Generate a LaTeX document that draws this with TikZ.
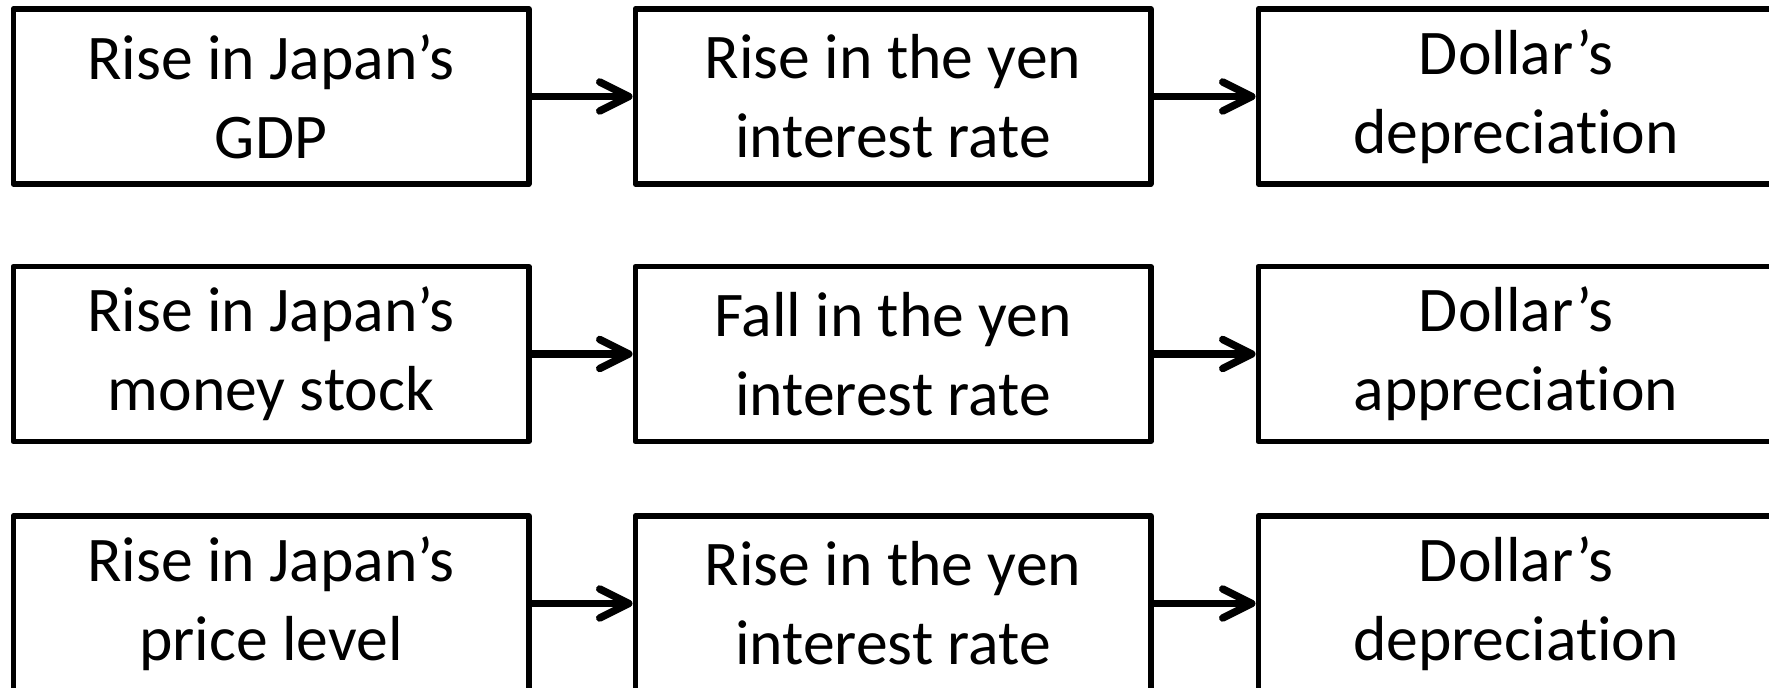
\documentclass[tikz,border=0pt]{standalone}
\usepackage{fontspec}
\setmainfont{Carlito}[Ligatures=NoCommon]
\usetikzlibrary{arrows.meta,positioning}
\tikzset{
  box/.style={draw, line width=0.055cm, line join=round, align=center,
    minimum width=5.155cm, minimum height=1.75cm, inner sep=2pt,
    font=\fontsize{18.1}{22.4}\selectfont},
  arr/.style={-{Straight Barb[length=2.9mm, width=2.9mm, round]}, line width=0.075cm, line cap=round}}

\begin{document}
\begin{tikzpicture}
  \useasboundingbox (0,0) rectangle (17.69,-6.88);
  % row 1: output
  \node[box] (gdp) at (2.71,-0.965) {Rise in Japan’s\\GDP};
  \node[box] (rateup) at (8.93,-0.965) {Rise in the yen\\interest rate};
  \node[box] (dep) at (15.16,-0.965) {Dollar’s\\depreciation};
  % row 2: money
  \node[box] (money) at (2.71,-3.54) {Rise in Japan’s\\money stock};
  \node[box] (ratedown) at (8.93,-3.54) {Fall in the yen\\interest rate};
  \node[box] (app) at (15.16,-3.54) {Dollar’s\\appreciation};
  % row 3: prices
  \node[box] (price) at (2.71,-6.035) {Rise in Japan’s\\price level};
  \node[box] (rateup2) at (8.93,-6.035) {Rise in the yen\\interest rate};
  \node[box] (dep2) at (15.16,-6.035) {Dollar’s\\depreciation};
  \draw[arr] (gdp) -- (rateup); \draw[arr] (rateup) -- (dep);
  \draw[arr] (money) -- (ratedown); \draw[arr] (ratedown) -- (app);
  \draw[arr] (price) -- (rateup2); \draw[arr] (rateup2) -- (dep2);
\end{tikzpicture}
\end{document}
